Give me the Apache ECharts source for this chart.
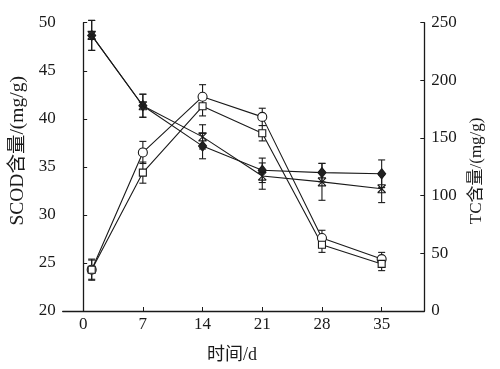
<!DOCTYPE html>
<html>
<head>
<meta charset="utf-8">
<script src="https://cdn.jsdelivr.net/npm/echarts@6/dist/echarts.min.js"></script>
<style>html,body{margin:0;padding:0;background:#fff}#c{width:500px;height:369px}</style>
</head>
<body>
<div id="c"></div>
<script>
var days = [1, 7, 14, 21, 28, 35];
var xTicks = [0, 7, 14, 21, 28, 35];
var scodCircle = [24.3, 36.5, 42.3, 40.2, 27.6, 25.4];
var scodCircleErr = [1.1, 1.15, 1.25, 0.9, 0.8, 0.7];
var scodSquare = [24.3, 34.4, 41.3, 38.5, 26.9, 24.9];
var scodSquareErr = [1.0, 1.1, 1.0, 0.8, 0.8, 0.7];
var tcDiamond = [239, 178, 143, 122, 120, 119];
var tcDiamondErr = [13, 10, 11, 10.6, 8, 12];
var tcCross = [239, 178, 151, 117, 112, 106];
var tcCrossErr = [13, 10, 10.5, 11.4, 16, 12];

var FONT = '"Liberation Serif", "Times New Roman", "Noto Sans CJK SC", serif';
var INK = '#1a1a1a';

function pts(vals) { return days.map(function (d, i) { return [d, vals[i]]; }); }
function errs(vals, e) { return days.map(function (d, i) { return [d, vals[i] - e[i], vals[i] + e[i]]; }); }

function errSeries(vals, e, yIdx) {
  return {
    type: 'custom', xAxisIndex: 0, yAxisIndex: yIdx, z: 2,
    data: errs(vals, e),
    renderItem: function (params, api) {
      var lo = api.coord([api.value(0), api.value(1)]);
      var hi = api.coord([api.value(0), api.value(2)]);
      var w = 3.5;
      var st = { stroke: INK, lineWidth: 1.1, fill: null };
      return { type: 'group', children: [
        { type: 'line', shape: { x1: lo[0], y1: lo[1], x2: hi[0], y2: hi[1] }, style: st },
        { type: 'line', shape: { x1: lo[0] - w, y1: lo[1], x2: lo[0] + w, y2: lo[1] }, style: st },
        { type: 'line', shape: { x1: hi[0] - w, y1: hi[1], x2: hi[0] + w, y2: hi[1] }, style: st }
      ]};
    }
  };
}

function lineSeries(vals, yIdx, symbol, size, fill) {
  return {
    type: 'line', yAxisIndex: yIdx, data: pts(vals), z: 3,
    symbol: symbol, symbolSize: size, showSymbol: true,
    lineStyle: { color: INK, width: 1.1 },
    itemStyle: { color: fill, borderColor: INK, borderWidth: 1.1 },
    emphasis: { disabled: true }, animation: false
  };
}

var chart = echarts.init(document.getElementById('c'), null, { renderer: 'canvas' });
chart.setOption({
  animation: false,
  backgroundColor: '#fff',
  grid: { left: 62.7, right: 75.7, top: 22.7, bottom: 55, containLabel: false },
  xAxis: {
    type: 'value', min: -2.4, max: 40,
    name: '时间/d', nameLocation: 'middle', nameGap: 35,
    nameTextStyle: { fontFamily: FONT, fontSize: 18, color: INK, padding: [0, 23, 0, 0] },
    axisLine: { lineStyle: { color: INK, width: 1.3 } },
    axisTick: { inside: true, length: 4, customValues: xTicks, lineStyle: { color: INK } },
    axisLabel: { customValues: xTicks, fontFamily: FONT, fontSize: 17, color: INK, margin: 5 },
    splitLine: { show: false }
  },
  yAxis: [{
    type: 'value', min: 20, max: 50, interval: 5, position: 'left',
    name: 'SCOD含量/(mg/g)', nameLocation: 'middle', nameRotate: 90, nameGap: 30,
    nameTextStyle: { fontFamily: FONT, fontSize: 19.5, color: INK, padding: [0, 0, 0, 32] },
    axisLine: { show: true, lineStyle: { color: INK, width: 1.3 } },
    axisTick: { show: true, inside: true, length: 4, lineStyle: { color: INK } },
    axisLabel: { fontFamily: FONT, fontSize: 17, color: INK, margin: 7 },
    splitLine: { show: false }
  }, {
    type: 'value', min: 0, max: 250, interval: 50, position: 'right',
    name: 'TC含量/(mg/g)', nameLocation: 'middle', nameRotate: 90, nameGap: 44,
    nameTextStyle: { fontFamily: FONT, fontSize: 17, color: INK, padding: [0, 8, 0, 0] },
    axisLine: { show: true, lineStyle: { color: INK, width: 1.3 } },
    axisTick: { show: true, inside: true, length: 4, lineStyle: { color: INK } },
    axisLabel: { fontFamily: FONT, fontSize: 17, color: INK, margin: 7 },
    splitLine: { show: false }
  }],
  series: [
    errSeries(scodCircle, scodCircleErr, 0),
    errSeries(scodSquare, scodSquareErr, 0),
    errSeries(tcDiamond, tcDiamondErr, 1),
    errSeries(tcCross, tcCrossErr, 1),
    lineSeries(scodCircle, 0, 'circle', 9, '#fff'),
    lineSeries(scodSquare, 0, 'rect', 7, '#fff'),
    lineSeries(tcDiamond, 1, 'diamond', [8, 10], '#222'),
    lineSeries(tcCross, 1, 'path://M0,0 L10,10 M10,0 L0,10 M0,0 L10,0 M0,10 L10,10', 8, 'none')
  ]
});
</script>
</body>
</html>
